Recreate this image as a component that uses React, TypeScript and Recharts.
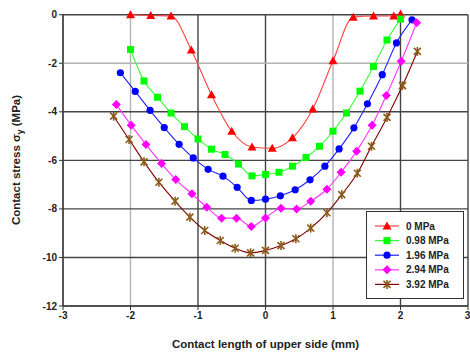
import React from 'react';
import { LineChart, Line, XAxis, YAxis } from 'recharts';

// Contact length positions (mm) and stresses (MPa) per load
const xRed = [-2.0, -1.7, -1.4, -1.1, -0.8, -0.5, -0.2, 0.1, 0.4, 0.7, 1.0, 1.3, 1.6, 1.9, 2.0];
const yRed = [0, -0.03, -0.05, -1.45, -3.3, -4.8, -5.45, -5.5, -5.07, -3.88, -1.9, -0.1, -0.05, -0.05, 0.03];

const xGreen = [-2.0, -1.8, -1.6, -1.4, -1.2, -1.0, -0.8, -0.6, -0.4, -0.2, 0.0, 0.2, 0.4, 0.6, 0.8, 1.0, 1.2, 1.4, 1.6, 1.8, 2.0];
const yGreen = [-1.43, -2.73, -3.4, -4.05, -4.61, -5.12, -5.54, -5.76, -6.15, -6.64, -6.58, -6.49, -6.24, -5.88, -5.42, -4.8, -4.05, -3.15, -2.13, -1.04, -0.18];

const xBlue = [-2.15, -1.93, -1.71, -1.5, -1.28, -1.07, -0.85, -0.63, -0.42, -0.21, 0.0, 0.22, 0.44, 0.66, 0.88, 1.09, 1.31, 1.51, 1.73, 1.94, 2.17];
const yBlue = [-2.39, -3.16, -3.94, -4.65, -5.34, -5.9, -6.37, -6.65, -7.11, -7.65, -7.6, -7.46, -7.21, -6.8, -6.24, -5.53, -4.66, -3.67, -2.47, -1.16, -0.21];

const xMagenta = [-2.21, -1.99, -1.77, -1.54, -1.33, -1.09, -0.87, -0.65, -0.43, -0.21, 0.0, 0.23, 0.46, 0.67, 0.91, 1.12, 1.35, 1.58, 1.79, 2.01, 2.24];
const yMagenta = [-3.7, -4.55, -5.35, -6.13, -6.79, -7.38, -7.93, -8.38, -8.38, -8.72, -8.37, -7.97, -8.0, -7.68, -7.19, -6.49, -5.62, -4.55, -3.33, -1.92, -0.33];

const xBrown = [-2.25, -2.02, -1.8, -1.58, -1.34, -1.12, -0.9, -0.67, -0.45, -0.22, 0.0, 0.23, 0.45, 0.67, 0.91, 1.13, 1.36, 1.57, 1.8, 2.03, 2.25];
const yBrown = [-4.18, -5.14, -6.06, -6.9, -7.68, -8.34, -8.89, -9.3, -9.62, -9.81, -9.71, -9.51, -9.23, -8.79, -8.16, -7.41, -6.53, -5.42, -4.23, -2.92, -1.51];

const xTicks = [-3, -2, -1, 0, 1, 2, 3];
const yTicks = [0, -2, -4, -6, -8, -10, -12];
const lightX = [-2, 1];
const lightY = [-2];

const zip = (xs: number[], ys: number[]) => xs.map((x, i) => ({ x, y: ys[i] }));

// grid lines drawn as plain two-point series so they go through the axis scales
const vGrid = xTicks.map(v => ({ v, light: lightX.includes(v), data: [{ x: v, y: 0 }, { x: v, y: -12 }] }));
const hGrid = yTicks.map(v => ({ v, light: lightY.includes(v), data: [{ x: -3, y: v }, { x: 3, y: v }] }));

type Shape = 'triangle' | 'square' | 'circle' | 'diamond' | 'cross';

const Marker = ({ cx, cy, shape, color }: { cx: number; cy: number; shape: Shape; color: string }) => {
  if (cx == null || cy == null) return null;
  switch (shape) {
    case 'triangle':
      return <polygon points={`${cx},${cy - 4.5} ${cx + 4.5},${cy + 3.5} ${cx - 4.5},${cy + 3.5}`} fill={color} />;
    case 'square':
      return <rect x={cx - 3.5} y={cy - 3.5} width={7} height={7} fill={color} />;
    case 'circle':
      return <circle cx={cx} cy={cy} r={3.6} fill={color} />;
    case 'diamond':
      return <polygon points={`${cx},${cy - 4.5} ${cx + 4.5},${cy} ${cx},${cy + 4.5} ${cx - 4.5},${cy}`} fill={color} />;
    default:
      return (
        <g stroke={color} strokeWidth={1.6}>
          <line x1={cx - 3.5} y1={cy - 3.5} x2={cx + 3.5} y2={cy + 3.5} />
          <line x1={cx - 3.5} y1={cy + 3.5} x2={cx + 3.5} y2={cy - 3.5} />
          <line x1={cx} y1={cy - 4.5} x2={cx} y2={cy + 4.5} />
        </g>
      );
  }
};

const series = [
  { name: '0 MPa', data: zip(xRed, yRed), line: '#ff4040', mark: '#ff0000', shape: 'triangle' as Shape },
  { name: '0.98 MPa', data: zip(xGreen, yGreen), line: '#33ff33', mark: '#00ff00', shape: 'square' as Shape },
  { name: '1.96 MPa', data: zip(xBlue, yBlue), line: '#2020ff', mark: '#0000ff', shape: 'circle' as Shape },
  { name: '2.94 MPa', data: zip(xMagenta, yMagenta), line: '#ff33ff', mark: '#ff00ff', shape: 'diamond' as Shape },
  { name: '3.92 MPa', data: zip(xBrown, yBrown), line: '#800000', mark: '#8b5a1b', shape: 'cross' as Shape },
];

const font = 'Liberation Sans, Arial, sans-serif';

const LegendBox = () => (
  <svg width={98} height={88} style={{ position: 'absolute', left: 366, top: 211 }}>
    <rect x={0.5} y={0.5} width={97} height={87} fill="#fff" stroke="#333" />
    {series.map((s, i) => {
      const y = 15 + i * 14.6;
      return (
        <g key={s.name}>
          <line x1={9} y1={y} x2={33} y2={y} stroke={s.line} strokeWidth={1.2} />
          <Marker cx={21} cy={y} shape={s.shape} color={s.mark} />
          <text x={40} y={y + 3.5} fontSize={10} fontWeight="bold" fill="#222" fontFamily={font}>{s.name}</text>
        </g>
      );
    })}
  </svg>
);

const YLabel = () => (
  <text transform="translate(20,160) rotate(-90)" textAnchor="middle" fontSize={11.5} fontWeight="bold" fill="#222" fontFamily={font}>
    Contact stress σ<tspan fontSize={8.5} dy={3}>y</tspan><tspan dy={-3}> (MPa)</tspan>
  </text>
);

export default function App() {
  return (
    <div style={{ position: 'absolute', left: 0, top: 0, width: 470, height: 360 }}>
      <LineChart width={470} height={360} data={series[4].data} margin={{ top: 14, right: 2, bottom: 24, left: 0 }}>
        <XAxis
          type="number"
          dataKey="x"
          domain={[-3, 3]}
          ticks={xTicks}
          stroke="#333"
          tickSize={4}
          height={30}
          tick={{ fontSize: 10, fontWeight: 'bold', fill: '#222', fontFamily: font }}
          label={{ value: 'Contact length of upper side (mm)', position: 'insideBottom', offset: -12, fontSize: 11.5, fontWeight: 'bold', fill: '#222', fontFamily: font }}
        />
        <YAxis
          type="number"
          domain={[-12, 0]}
          ticks={yTicks}
          width={63}
          stroke="#333"
          tickSize={4}
          tick={{ fontSize: 10, fontWeight: 'bold', fill: '#222', fontFamily: font }}
          label={<YLabel />}
        />
        {[...vGrid.map(g => ({ ...g, k: 'v' + g.v })), ...hGrid.map(g => ({ ...g, k: 'h' + g.v }))].map(g => (
          <Line
            key={g.k}
            data={g.data}
            dataKey="y"
            type="linear"
            stroke={g.light ? '#b4b4b4' : '#444'}
            strokeWidth={1.4}
            dot={false}
            activeDot={false}
            legendType="none"
            isAnimationActive={false}
          />
        ))}
        {series.map(s => (
          <Line
            key={s.name}
            data={s.data}
            dataKey="y"
            name={s.name}
            type="monotone"
            stroke={s.line}
            strokeWidth={1.1}
            isAnimationActive={false}
            dot={(p: any) => <Marker key={s.name + p.index} cx={p.cx} cy={p.cy} shape={s.shape} color={s.mark} />}
            activeDot={false}
          />
        ))}
      </LineChart>
      <LegendBox />
    </div>
  );
}
